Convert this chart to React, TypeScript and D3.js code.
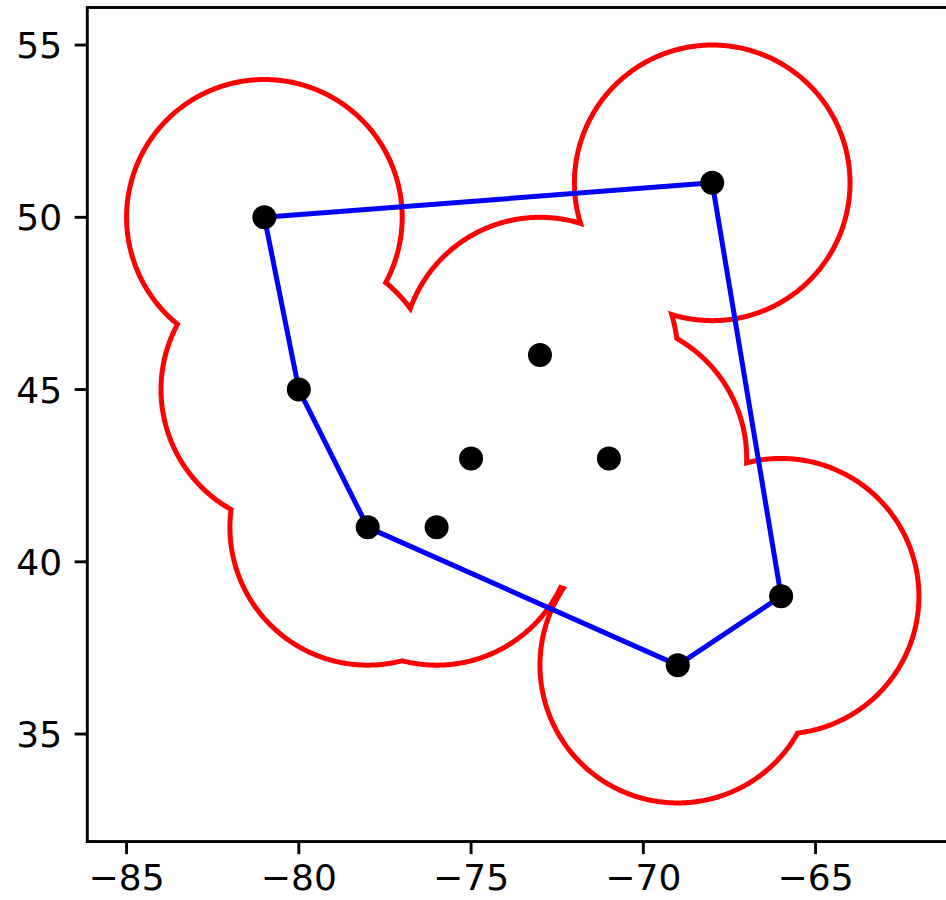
import React from 'react';
import * as d3 from 'd3';

// Data: point locations (longitude, latitude)
const lons = [-81, -68, -80, -73, -75, -71, -78, -76, -69, -66];
const lats = [50, 51, 45, 46, 43, 43, 41, 41, 37, 39];
const bufferRadius = 4;
const xTicks = [-85, -80, -75, -70, -65];
const yTicks = [35, 40, 45, 50, 55];
const xDomain = [-86.14, -61.0];
const yDomain = [31.88, 56.09];

const W = 946;
const H = 900;
const PX_PER_UNIT = 34.45;
const LEFT = 87.3;
const TOP = 7.5;

type Pt = [number, number];
type Arc = { c: Pt; a0: number; a1: number };

function unionBoundary(centers: Pt[], R: number): Arc[][] {
  const TAU = Math.PI * 2;
  const arcs: Arc[] = [];
  centers.forEach((c, i) => {
    const angs: number[] = [0, TAU];
    centers.forEach((o, j) => {
      if (i === j) return;
      const dx = o[0] - c[0];
      const dy = o[1] - c[1];
      const d = Math.hypot(dx, dy);
      if (d > 0 && d < 2 * R) {
        const b = Math.atan2(dy, dx);
        const h = Math.acos(d / (2 * R));
        [b - h, b + h].forEach((a) => angs.push(((a % TAU) + TAU) % TAU));
      }
    });
    angs.sort((a, b) => a - b);
    for (let k = 0; k < angs.length - 1; k++) {
      const a0 = angs[k];
      const a1 = angs[k + 1];
      if (a1 - a0 < 1e-9) continue;
      const m = (a0 + a1) / 2;
      const p: Pt = [c[0] + R * Math.cos(m), c[1] + R * Math.sin(m)];
      const inside = centers.some(
        (o, j) => j !== i && Math.hypot(p[0] - o[0], p[1] - o[1]) < R - 1e-9
      );
      if (!inside) arcs.push({ c, a0, a1 });
    }
  });
  const st = (a: Arc): Pt => [a.c[0] + R * Math.cos(a.a0), a.c[1] + R * Math.sin(a.a0)];
  const en = (a: Arc): Pt => [a.c[0] + R * Math.cos(a.a1), a.c[1] + R * Math.sin(a.a1)];
  const used = new Array(arcs.length).fill(false);
  const rings: Arc[][] = [];
  for (let s = 0; s < arcs.length; s++) {
    if (used[s]) continue;
    const ring: Arc[] = [];
    let cur = s;
    while (!used[cur]) {
      used[cur] = true;
      ring.push(arcs[cur]);
      const e = en(arcs[cur]);
      let best = -1;
      let bd = Infinity;
      arcs.forEach((a, k) => {
        if (used[k] && k !== s) return;
        const p = st(a);
        const dd = Math.hypot(p[0] - e[0], p[1] - e[1]);
        if (dd < bd) {
          bd = dd;
          best = k;
        }
      });
      if (best < 0) break;
      cur = best;
    }
    rings.push(ring);
  }
  return rings;
}

export default function App() {
  const x = d3
    .scaleLinear()
    .domain(xDomain)
    .range([LEFT, LEFT + (xDomain[1] - xDomain[0]) * PX_PER_UNIT]);
  const y = d3
    .scaleLinear()
    .domain(yDomain)
    .range([TOP + (yDomain[1] - yDomain[0]) * PX_PER_UNIT, TOP]);

  const pts: Pt[] = lons.map((lo, i) => [lo, lats[i]]);
  const rings = unionBoundary(pts, bufferRadius);
  const line = d3
    .line<Pt>()
    .x((d) => x(d[0]))
    .y((d) => y(d[1]));

  const ringPaths = rings.map((ring) => {
    const ps: Pt[] = [];
    ring.forEach((a) => {
      const n = Math.max(2, Math.ceil((a.a1 - a.a0) / (Math.PI / 360)));
      for (let k = 0; k <= n; k++) {
        const t = a.a0 + ((a.a1 - a.a0) * k) / n;
        ps.push([a.c[0] + bufferRadius * Math.cos(t), a.c[1] + bufferRadius * Math.sin(t)]);
      }
    });
    return (line(ps) || '') + 'Z';
  });

  const hull = d3.polygonHull(pts) || [];
  const hullPath = (line(hull as Pt[]) || '') + 'Z';

  const x0 = x(xDomain[0]);
  const x1 = x(xDomain[1]);
  const y0 = y(yDomain[0]);
  const y1 = y(yDomain[1]);
  const fmt = (v: number) => String(v).replace('-', '\u2212');
  const tickLen = 12.6;
  const font = "'DejaVu Sans', sans-serif";

  return (
    <svg
      width={W}
      height={H}
      style={{ position: 'absolute', left: 0, top: 0, background: '#fff' }}
    >
      <rect x={0} y={0} width={W} height={H} fill="#fff" />
      <g>
        {ringPaths.map((d, i) => (
          <path key={i} d={d} fill="none" stroke="#ff0000" strokeWidth={5} strokeLinejoin="miter" />
        ))}
        <path d={hullPath} fill="none" stroke="#0000ff" strokeWidth={5} strokeLinejoin="round" />
        {pts.map((p, i) => (
          <circle key={i} cx={x(p[0])} cy={y(p[1])} r={12} fill="#000" />
        ))}
      </g>
      <rect
        x={x0}
        y={y1}
        width={x1 - x0}
        height={y0 - y1}
        fill="none"
        stroke="#000"
        strokeWidth={2.9}
      />
      {xTicks.map((t) => (
        <g key={t}>
          <line x1={x(t)} x2={x(t)} y1={y0} y2={y0 + tickLen} stroke="#000" strokeWidth={2.9} />
          <text
            x={x(t)}
            y={890}
            textAnchor="middle"
            fontFamily={font}
            fontSize={36}
            fill="#000"
          >
            {fmt(t)}
          </text>
        </g>
      ))}
      {yTicks.map((t) => (
        <g key={t}>
          <line x1={x0} x2={x0 - tickLen} y1={y(t)} y2={y(t)} stroke="#000" strokeWidth={2.9} />
          <text
            x={x0 - tickLen - 12.6}
            y={y(t) + 13.1}
            textAnchor="end"
            fontFamily={font}
            fontSize={36}
            fill="#000"
          >
            {fmt(t)}
          </text>
        </g>
      ))}
    </svg>
  );
}
